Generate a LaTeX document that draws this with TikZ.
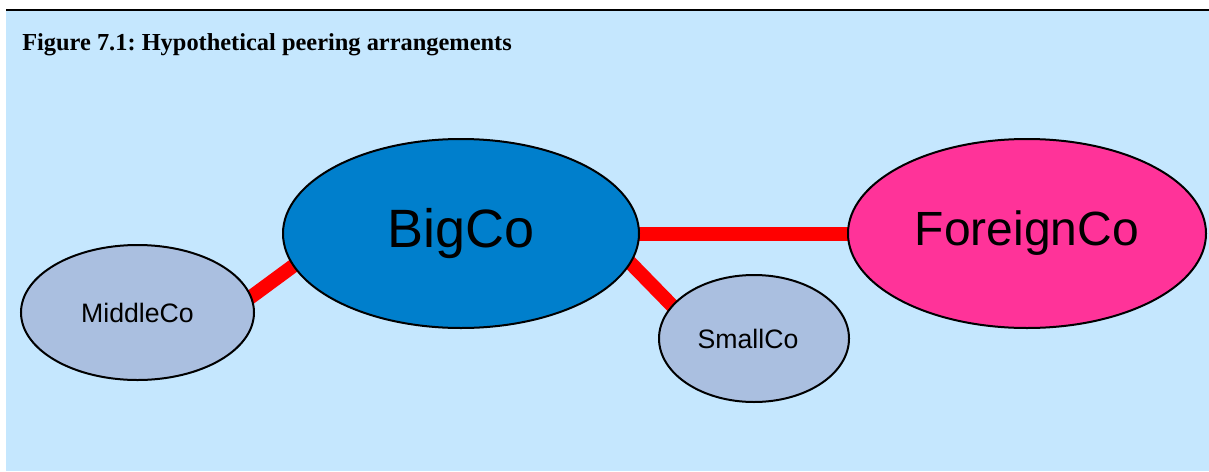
\documentclass[tikz,border=0pt]{standalone}
\usepackage{fontspec}
\setmainfont{Liberation Serif}
\newfontfamily\arialfont{Liberation Sans}
\usetikzlibrary{shapes.geometric}
\definecolor{paneblue}{RGB}{197,231,254}
\definecolor{bigblue}{RGB}{0,127,204}
\definecolor{foreignpink}{RGB}{255,51,153}
\definecolor{smallgrey}{RGB}{170,191,224}
\pgfdeclarelayer{background}
\pgfdeclarelayer{edges}
\pgfsetlayers{background,edges,main}
\frenchspacing
\begin{document}
\begin{tikzpicture}
[x=0.75pt,y=-0.75pt,
  firmdecorate/.style={shape=ellipse,inner sep=0pt,draw,line width=1.5pt,font=\arialfont},%
  peerdecorate/.style={-,red,line width=10.5pt,shorten <=-6pt,shorten >=-6pt}]
\useasboundingbox (0,0) rectangle (1209,471);
\begin{pgfonlayer}{background}
\fill[paneblue] (6,10) rectangle (1209,471);
\draw[line width=1.6pt] (6,10) -- (1209,10);
\end{pgfonlayer}
% title
\node (title) [anchor=base west,inner sep=0pt] at (22,50) {\fontsize{18.3}{22}\selectfont\bfseries Figure 7.1: Hypothetical peering arrangements};
% nodes or vertices
\node (big) at (461,233.5) [firmdecorate,fill=bigblue,minimum width=267pt,minimum height=141.75pt] {\fontsize{40.5}{48}\selectfont BigCo};
\node (foreign) at (1027,233.5) [firmdecorate,fill=foreignpink,minimum width=268.5pt,minimum height=141.75pt] {\fontsize{36}{43}\selectfont ForeignCo};
\node (mid) at (137.5,312.5) [firmdecorate,fill=smallgrey,minimum width=174.75pt,minimum height=101.25pt] {\fontsize{20}{24}\selectfont MiddleCo};
\node (small) at (754,338.5) [firmdecorate,fill=smallgrey,minimum width=142.5pt,minimum height=95.25pt] {\fontsize{20}{24}\selectfont SmallCo\kern9pt};
% edges or lines
\begin{pgfonlayer}{edges}
\path
(big.east) edge[peerdecorate] (foreign.west)
(mid.8) edge[peerdecorate] (big.191)
(big.-10) edge[peerdecorate] (small.158);
\end{pgfonlayer}
\end{tikzpicture}
\end{document}
